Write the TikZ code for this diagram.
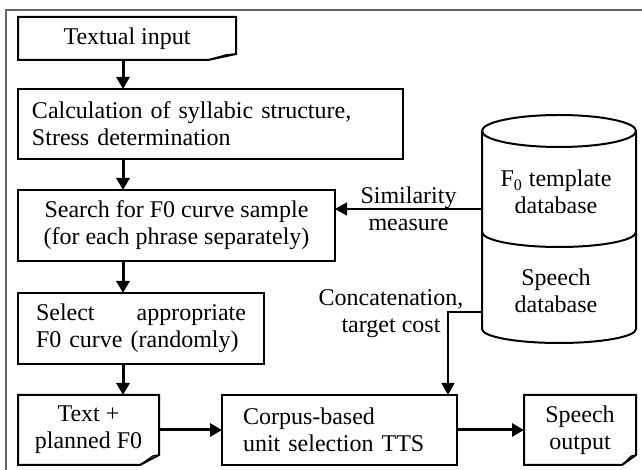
\documentclass[tikz,border=0pt]{standalone}
\usepackage{fontspec}
\setmainfont{Liberation Serif}
\usetikzlibrary{positioning,arrows.meta}

% outline of a document node with a folded corner
\newcommand{\docframe}[3]{%
  \draw[line width=1pt] (#1.north west) -- (#1.north east) -- ([yshift=#3]#1.south east)
    -- ([xshift=-#2]#1.south east) -- (#1.south west) -- cycle;
  \draw[line width=0.6pt] ([xshift=-#2]#1.south east) -- ([xshift=-#2/3,yshift=#3*0.9]#1.south east)
    -- ([yshift=#3]#1.south east);}

\begin{document}
\begin{tikzpicture}[>={Triangle[length=6pt,width=6.5pt]},
                font=\fontsize{12}{13.5}\selectfont,
                box/.style={draw,line width=1pt,inner sep=0pt,outer sep=0pt},
                doc/.style={inner sep=0pt,outer sep=0pt},
                flow/.style={->,line width=1.5pt},
                link/.style={->,line width=0.8pt}]

  \useasboundingbox (0,0) rectangle (321pt,235pt);
  \draw[black!60,line width=1pt] (321pt,230pt) -- (3pt,230pt) -- (3pt,0pt);

  \node[doc,minimum width=109pt,minimum height=21.5pt,anchor=north west] (1) at (9pt,226.5pt) {Textual input};
  \node[box,text width=178.5pt,inner xsep=7pt,minimum height=35pt,align=left] (2)
    [below=14.5pt of 1.south west,anchor=north west] {Calculation of syllabic structure,\\Stress determination};
  \node[box,minimum width=158.5pt,minimum height=35.5pt,align=center] (3)
    [below=15.5pt of 2.south west,anchor=north west] {Search for F0 curve sample\\(for each phrase separately)};
  \node[box,text width=105pt,inner xsep=9pt,minimum height=35.5pt,align=left] (4)
    [below=16pt of 3.south west,anchor=north west] {Select \hfill appropriate\\F0 curve (randomly)};
  \node[doc,minimum width=70.5pt,minimum height=35pt,align=center] (5)
    [below=15.5pt of 4.south west,anchor=north west] {Text +\\planned F0};
  \node[box,text width=96.5pt,inner xsep=10.5pt,minimum height=35pt,align=left] (6)
    [right=31.5pt of 5] {Corpus-based\\unit selection TTS};
  \node[doc,minimum width=56pt,minimum height=35pt,align=center] (7) [right=33.5pt of 6] {Speech\\output};
  \node[minimum width=77pt,minimum height=114pt,inner sep=0pt,outer sep=0pt,anchor=north east] (8) at (318pt,177.5pt) {};

  \docframe{1}{14pt}{3pt}
  \docframe{5}{9.5pt}{5pt}
  \docframe{7}{7pt}{5pt}

  % database cylinder
  \draw[line width=1pt] ([yshift=-8pt]8.north) ellipse (38.5pt and 8pt);
  \draw[line width=1pt] ([yshift=-8pt]8.north west) -- ([yshift=7pt]8.south west)
    arc (180:360:38.5pt and 7pt) -- ([yshift=-8pt]8.north east);
  \draw[line width=1pt] ([yshift=-1.5pt]8.west) arc (180:360:38.5pt and 7.5pt);
  \node[align=center] (10) at ([xshift=-1.5pt,yshift=18.5pt]8.center) {F\textsubscript{0} template\\database};
  \node[align=center] (11) at ([xshift=-1.5pt,yshift=-31pt]8.center) {Speech\\database};

  \coordinate (ax) at (61.5pt,0pt);
  \foreach \a/\b in {1/2,2/3,3/4,4/5}
    \draw[flow] (\a.south -| ax) -- (\b.north -| ax);
  \draw[flow] (5) -- (6);
  \draw[flow] (6) -- (7);

  \coordinate (s) at ([yshift=10pt]8.west);
  \coordinate (c) at ([yshift=-41.5pt]8.west);
  \draw[link] (s) -- (s -| 3.east) node[midway,align=center] (12) {Similarity\\measure};
  \draw[link] (c) -| ([xshift=-4.5pt]6.north east);
  \node[align=center] (13) at ([xshift=-45.5pt,yshift=-1pt]c) {Concatenation,\\target cost};
\end{tikzpicture}
\end{document}
